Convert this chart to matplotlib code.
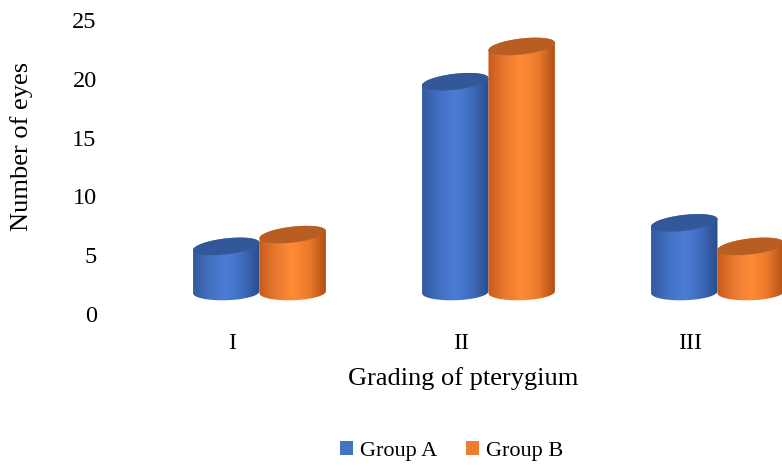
import numpy as np
import matplotlib.pyplot as plt
from matplotlib.patches import Polygon, Patch
from matplotlib.colors import LinearSegmentedColormap

categories = ['I', 'II', 'III']
group_a = [5, 19, 7]
group_b = [6, 22, 5]
series_names = ['Group A', 'Group B']

plt.rcParams['font.family'] = ['Liberation Serif', 'DejaVu Serif']

fig = plt.figure(figsize=(7.82, 4.66), dpi=100)
W, H = 782, 466
# axes placed in pixel terms: category I at x=232px, 229px per category
left_px, bottom_px = 117.5, 330
ax = fig.add_axes([left_px / W, (H - bottom_px) / H, (W - left_px) / W, bottom_px / H])

bar_w = 0.29
pair_shift = 0.12
base = 1.85          # projected floor of the 3D cylinders
top_lift = 0.75      # projected offset of top ellipse centre
ry = 0.68            # ellipse vertical semi-axis (data units)
top_tilt = 0.62
bot_tilt = 0.17

cmaps = [
    LinearSegmentedColormap.from_list('blue', ['#33599f', '#4270c2', '#4b7dd6', '#3f6bbd', '#2a4d8c']),
    LinearSegmentedColormap.from_list('orange', ['#c65a1c', '#ea7a2f', '#ff8b37', '#ec7a2c', '#b04f14']),
]
top_colors = ['#33589a', '#b95e22']
legend_colors = ['#4472c4', '#ed7d31']


def cylinder(cx, value, k):
    half = bar_w / 2
    top_c = value + top_lift
    t_low = np.linspace(np.pi, 2 * np.pi, 60)
    t_up = np.linspace(0, np.pi, 60)
    bx = cx + half * np.cos(t_low)
    by = base + ry * np.sin(t_low) + bot_tilt * (bx - cx) / bar_w
    tx = cx + half * np.cos(t_up)
    ty = top_c + ry * np.sin(t_up) + top_tilt * (tx - cx) / bar_w
    body = Polygon(np.column_stack([np.r_[bx, tx], np.r_[by, ty]]), closed=True,
                   facecolor='none', edgecolor='none')
    ax.add_patch(body)
    grad = np.linspace(0, 1, 256).reshape(1, -1)
    im = ax.imshow(grad, cmap=cmaps[k], aspect='auto', zorder=2 + k,
                   extent=[cx - half, cx + half, base - ry - 0.5, top_c + ry + 0.5])
    im.set_clip_path(body)
    t = np.linspace(0, 2 * np.pi, 120)
    ex = cx + half * np.cos(t)
    ey = top_c + ry * np.sin(t) + top_tilt * (ex - cx) / bar_w
    ax.add_patch(Polygon(np.column_stack([ex, ey]), closed=True,
                         facecolor=top_colors[k], edgecolor='none', zorder=2.5 + k))


x = np.arange(len(categories))
for k, vals in enumerate([group_a, group_b]):
    for i, v in enumerate(vals):
        cx = x[i] + pair_shift + (k - 0.5) * bar_w
        cylinder(cx, v, k)

ax.set_xlim(-0.5, (W - 232) / 229)
ax.set_ylim(-(bottom_px - 314) / 11.76, 25 + 20 / 11.76)
ax.set_xticks(x)
ax.set_xticklabels(categories)
ax.set_yticks(range(0, 26, 5))
ax.tick_params(axis='both', length=0, labelsize=17.5)
ax.tick_params(axis='y', pad=15)
ax.tick_params(axis='x', pad=2)
for s in ax.spines.values():
    s.set_visible(False)
ax.patch.set_alpha(0)

fig.text(463 / W, 1 - 379 / H, 'Grading of pterygium', fontsize=19, ha='center', va='center')
fig.text(22 / W, 1 - 146 / H, 'Number of eyes', fontsize=19, rotation=90, ha='center', va='center')

handles = [Patch(facecolor=c, edgecolor='none') for c in legend_colors]
fig.legend(handles, series_names, loc='center', bbox_to_anchor=(452 / W, 1 - 451 / H), ncol=2,
           frameon=False, fontsize=16, handlelength=0.55, handleheight=0.55,
           handletextpad=0.35, columnspacing=1.3)

fig.savefig('out.png', dpi=100)
